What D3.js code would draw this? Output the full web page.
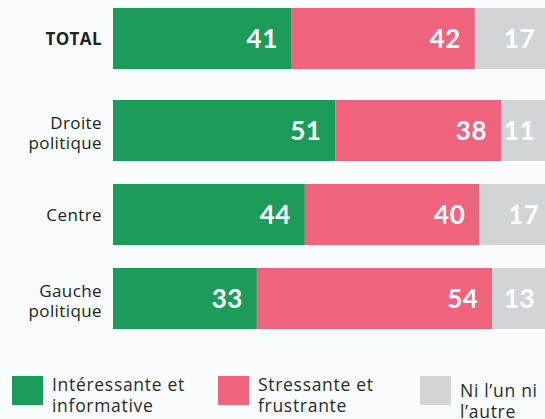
<!DOCTYPE html>
<html>
<head>
<meta charset="utf-8">
<script src="https://cdn.jsdelivr.net/npm/d3@7"></script>
<style>
  body { margin: 0; background: #f9fdfd; }
  svg { display: block; font-family: "Open Sans", Lato, sans-serif; }
</style>
</head>
<body>
<div class="svg-wrapper"></div>
<script>
// data
var categories   = ["TOTAL", "Droite politique", "Centre", "Gauche politique"];
var seriesNames  = ["Intéressante et informative", "Stressante et frustrante", "Ni l’un ni l’autre"];
var interessante = [41, 51, 44, 33];
var stressante   = [42, 38, 40, 54];
var niLun        = [17, 11, 17, 13];

var colors = ["#1d9b59", "#ef647d", "#d2d5d8"];

var width = 545, height = 419;

var rows = categories.map(function(c, i) {
  return { name: c, s0: interessante[i], s1: stressante[i], s2: niLun[i] };
});

var svg = d3.select(".svg-wrapper").append("svg")
  .attr("width", width)
  .attr("height", height);

svg.append("rect")
  .attr("width", width)
  .attr("height", height)
  .attr("fill", "#f9fdfd");

var xScale = d3.scaleLinear()
  .domain([0, 100])
  .range([113, 549]);

var yScale = d3.scaleBand()
  .domain(categories)
  .range([16, 329])
  .paddingInner(23 / 84)
  .paddingOuter(0);

// TOTAL sits a bit apart from the other rows
function rowY(name) {
  return yScale(name) - (name == "TOTAL" ? 8 : 0);
}

var stack = d3.stack().keys(["s0", "s1", "s2"]);
var stacked = stack(rows);

var g_series = svg.selectAll(".series")
  .data(stacked)
  .enter().append("g")
    .attr("class", "series")
    .attr("fill", function(d, i) { return colors[i]; });

g_series.selectAll("rect")
  .data(function(d) { return d; })
  .enter().append("rect")
    .attr("x", function(d) { return xScale(d[0]); })
    .attr("y", function(d) { return rowY(d.data.name); })
    .attr("width", function(d) { return xScale(d[1]) - xScale(d[0]); })
    .attr("height", yScale.bandwidth());

g_series.selectAll("text")
  .data(function(d) { return d; })
  .enter().append("text")
    .attr("x", function(d) { return xScale(d[1]) - 14; })
    .attr("y", function(d) { return rowY(d.data.name) + yScale.bandwidth() / 2 + 9; })
    .attr("text-anchor", "end")
    .attr("fill", "#fff")
    .attr("font-family", "Lato, sans-serif")
    .attr("font-size", 26)
    .attr("font-weight", 700)
    .attr("letter-spacing", 0.5)
    .text(function(d) { return d[1] - d[0]; });

// category labels
var g_labels = svg.selectAll(".cat")
  .data(categories)
  .enter().append("text")
    .attr("class", "cat")
    .attr("text-anchor", "end")
    .attr("fill", "#222")
    .attr("font-size", 17)
    .attr("letter-spacing", 0.4)
    .attr("font-weight", function(d) { return d == "TOTAL" ? 700 : 400; })
    .attr("y", function(d) {
      var c = rowY(d) + yScale.bandwidth() / 2;
      return d.split(" ").length > 1 ? c - 2 : c + 6;
    });

g_labels.selectAll("tspan")
  .data(function(d) { return d.split(" "); })
  .enter().append("tspan")
    .attr("x", 102)
    .attr("dy", function(d, i) { return i ? 20 : 0; })
    .text(function(d) { return d; });

// legend
var legendX = [12, 218, 420];
var legendLines = [["Intéressante et", "informative"], ["Stressante et", "frustrante"], ["Ni l’un ni", "l’autre"]];
var legendDy = [0, 0, 6];

var g_legend = svg.selectAll(".legend")
  .data(seriesNames)
  .enter().append("g")
    .attr("class", "legend")
    .attr("transform", function(d, i) { return "translate(" + legendX[i] + ",376)"; });

g_legend.append("rect")
  .attr("width", 31)
  .attr("height", 29)
  .attr("fill", function(d, i) { return colors[i]; });

g_legend.append("text")
  .attr("y", function(d, i) { return 15 + legendDy[i]; })
  .attr("fill", "#2a2a2a")
  .attr("font-size", 17.5)
  .attr("letter-spacing", 0.7)
  .selectAll("tspan")
  .data(function(d, i) { return legendLines[i]; })
  .enter().append("tspan")
    .attr("x", 40)
    .attr("dy", function(d, i) { return i ? 21 : 0; })
    .text(function(d) { return d; });
</script>
</body>
</html>
